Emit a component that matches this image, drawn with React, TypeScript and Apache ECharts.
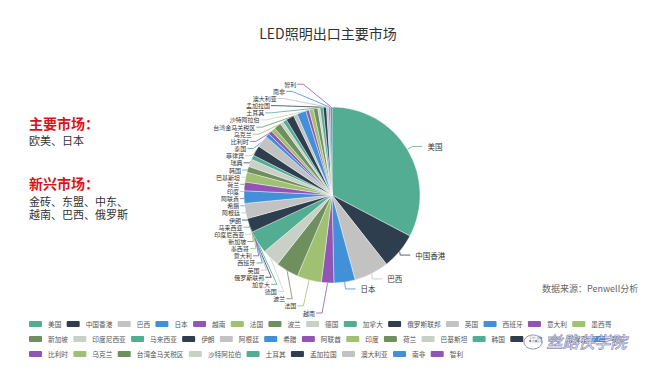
import React, { useEffect, useRef } from "react";
import * as echarts from "echarts";

const countries = [
  "美国", "中国香港", "巴西", "日本", "越南", "法国", "波兰", "德国", "加拿大", "俄罗斯联邦",
  "英国", "西班牙", "意大利", "墨西哥", "新加坡", "印度尼西亚", "马来西亚", "伊朗", "阿根廷", "希腊",
  "阿联酋", "印度", "荷兰", "巴基斯坦", "韩国", "瑞典", "菲律宾", "泰国", "比利时", "乌克兰",
  "台湾金马关税区", "沙特阿拉伯", "土耳其", "孟加拉国", "澳大利亚", "南非", "智利",
];
const shares = [
  32.8, 6.7, 6.4, 3.9, 2.3, 4.5, 4.2, 3.3, 4.2, 2.6,
  2.8, 2.3, 1.6, 1.8, 1.1, 1.4, 0.8, 1.9, 2.2, 0.7,
  0.7, 0.8, 1.3, 0.6, 0.7, 1.5, 0.7, 1.7, 0.6, 0.8,
  0.8, 0.4, 0.6, 0.6, 0.4, 0.3, 0.3,
];
const palette = ["#52ad93", "#2f3e4e", "#c2c2c2", "#4190d8", "#9156b5", "#a0c072", "#6f8f5e", "#c9d0c5"];
const legendRow1 = countries.slice(0, 14);
const legendRow2 = countries.slice(14, 28);
const legendRow3 = countries.slice(28);
const titleText = "LED照明出口主要市场";
const sourceText = "数据来源：Penwell分析";

const FONT = "'Noto Sans CJK SC', 'Noto Sans', sans-serif";
const CX = 332;
const CY = 195;
const R = 88;
const LEFT_START = 4; // first slice whose label sits in the left column
const LABEL_BOTTOM = 313;
const LABEL_STEP = 7.15;

export default function App() {
  const ref = useRef<HTMLDivElement>(null);
  useEffect(() => {
    if (!ref.current) return;
    const chart = echarts.init(ref.current, undefined, { renderer: "svg" });
    const legendBase = {
      left: 27,
      itemWidth: 15,
      itemHeight: 8,
      itemGap: 3.3,
      padding: 0,
      icon: "roundRect",
      selectedMode: false,
      textStyle: { fontSize: 6.7, color: "#555", fontFamily: FONT },
    };
    chart.setOption({
      animation: false,
      color: palette,
      textStyle: { fontFamily: FONT },
      title: {
        text: titleText,
        left: "center",
        top: 21,
        textStyle: { fontSize: 14, fontWeight: "normal", color: "#333", fontFamily: FONT },
      },
      legend: [
        { ...legendBase, top: 319, data: legendRow1 },
        { ...legendBase, top: 334, data: legendRow2 },
        { ...legendBase, top: 349, data: legendRow3 },
      ],
      graphic: [
        { type: "text", left: 29, top: 116, style: { text: "主要市场：", fontSize: 14, fontWeight: "bold", fill: "#d8141c", fontFamily: FONT } },
        { type: "text", left: 29, top: 134, style: { text: "欧美、日本", fontSize: 11, fill: "#333", fontFamily: FONT } },
        { type: "text", left: 29, top: 176, style: { text: "新兴市场：", fontSize: 14, fontWeight: "bold", fill: "#d8141c", fontFamily: FONT } },
        { type: "text", left: 29, top: 195, style: { text: "金砖、东盟、中东、", fontSize: 11, fill: "#333", fontFamily: FONT } },
        { type: "text", left: 29, top: 208, style: { text: "越南、巴西、俄罗斯", fontSize: 11, fill: "#333", fontFamily: FONT } },
        { type: "text", left: 542, top: 284, style: { text: sourceText, fontSize: 9, fill: "#666", fontFamily: FONT } },
        { type: "ellipse", shape: { cx: 533, cy: 342, rx: 9, ry: 7 }, style: { fill: "rgba(255,255,255,0.6)", stroke: "#7276b0", lineWidth: 0.8 }, z: 100 },
        { type: "circle", shape: { cx: 530, cy: 341, r: 1 }, style: { fill: "#7276b0" }, z: 101 },
        { type: "circle", shape: { cx: 536, cy: 341, r: 1 }, style: { fill: "#7276b0" }, z: 101 },
        { type: "text", left: 546, top: 333, z: 100, style: { text: "丝路侠学院", fontSize: 16, fontStyle: "italic", fill: "rgba(255,255,255,0.55)", stroke: "#7276b0", lineWidth: 0.8, fontFamily: FONT } },
      ],
      series: [
        {
          type: "pie",
          center: [CX, CY],
          radius: [0, R],
          startAngle: 90,
          clockwise: true,
          avoidLabelOverlap: true,
          itemStyle: { borderColor: "#fff", borderWidth: 0.4 },
          label: { show: true, position: "outside", fontSize: 6, lineHeight: 6, fontFamily: FONT },
          labelLine: { show: true, length: 6, length2: 10, lineStyle: { width: 0.8 } },
          labelLayout: (p: any) => {
            const i = p.dataIndex;
            if (i < LEFT_START) return {};
            const y = LABEL_BOTTOM - (i - LEFT_START) * LABEL_STEP;
            const dy = y - CY;
            const off = (R + 5) * Math.sqrt(Math.max(0, 1 - Math.pow(dy / (R + 32), 2)));
            const xEnd = CX - off;
            const p0 = p.labelLinePoints ? p.labelLinePoints[0] : [xEnd + 6, y];
            return {
              x: xEnd,
              y,
              align: "right",
              verticalAlign: "middle",
              labelLinePoints: [p0, [xEnd + 7, y], [xEnd + 1, y]],
            };
          },
          data: countries.map((name, i) =>
            i < LEFT_START
              ? { name, value: shares[i], label: { fontSize: 7.5, lineHeight: 8 } }
              : { name, value: shares[i] }
          ),
        },
      ],
    });
    return () => chart.dispose();
  }, []);
  return <div ref={ref} style={{ position: "fixed", left: 0, top: 0, width: 656, height: 373, background: "#fff" }} />;
}
